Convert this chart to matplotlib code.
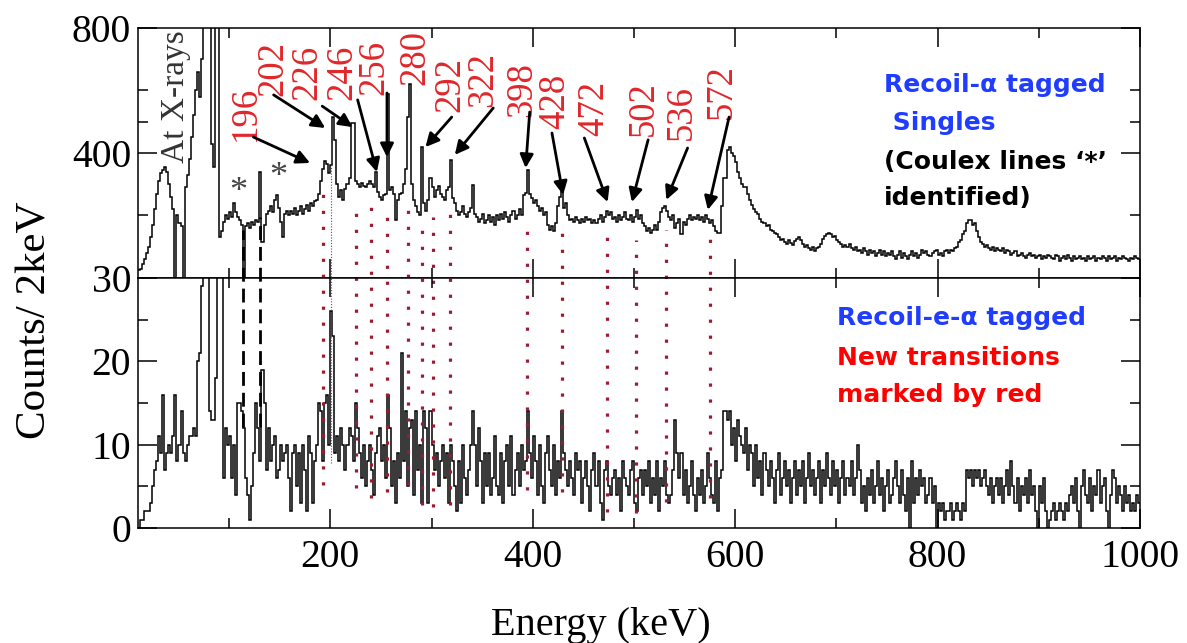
import numpy as np
import matplotlib
matplotlib.use("Agg")
import matplotlib.pyplot as plt

plt.rcParams['font.family'] = ['Liberation Serif', 'DejaVu Serif']

# ---------------- data (2 keV bins from 10 keV to 1000 keV) ----------------
bin_start = 10
bin_width = 2

singles_counts = [
    25, 30, 45, 60, 80, 100, 130, 170, 220, 270, 310, 335, 345, 355, 340, 300, 260, 220, 0, 200, 175, 165, 0, 290, 330,
    380, 450, 520, 600, 660, 580, 700, 1500, 2500, 2500, 1200, 430, 355, 1500, 1800, 130, 150, 180, 200, 190, 210, 195, 240, 210, 195,
    185, 170, 0, 165, 175, 160, 180, 170, 185, 180, 340, 115, 170, 205, 215, 230, 210, 250, 265, 225, 180, 130, 205, 215, 200,
    215, 205, 225, 200, 215, 230, 205, 220, 235, 215, 240, 230, 245, 250, 270, 310, 350, 375, 365, 335, 360, 515, 440, 300, 260,
    280, 250, 285, 300, 320, 495, 495, 310, 300, 290, 305, 295, 290, 300, 310, 300, 290, 340, 275, 260, 250, 265, 270, 590, 280,
    290, 270, 186, 250, 270, 272, 300, 350, 515, 620, 300, 250, 230, 210, 200, 420, 240, 215, 250, 320, 290, 260, 280, 295, 270,
    260, 250, 280, 290, 378, 255, 240, 215, 200, 210, 230, 205, 195, 210, 225, 298, 205, 195, 180, 190, 205, 175, 185, 200, 180,
    195, 170, 200, 185, 205, 190, 210, 195, 180, 200, 215, 190, 200, 220, 200, 265, 272, 346, 270, 255, 240, 250, 230, 215, 225,
    200, 210, 170, 155, 165, 150, 175, 230, 260, 280, 225, 240, 200, 185, 190, 180, 195, 185, 175, 190, 180, 195, 185, 190, 175,
    185, 175, 190, 200, 180, 195, 215, 200, 210, 190, 195, 180, 200, 185, 195, 210, 190, 185, 200, 180, 195, 218, 190, 200, 175,
    165, 150, 160, 145, 155, 170, 155, 180, 210, 225, 230, 215, 195, 185, 200, 160, 175, 190, 140, 180, 170, 190, 200, 185, 195,
    190, 200, 185, 195, 180, 200, 190, 175, 185, 165, 150, 145, 145, 230, 320, 320, 410, 420, 400, 390, 370, 340, 320, 300, 290,
    290, 270, 250, 235, 220, 210, 205, 190, 180, 175, 165, 170, 155, 150, 145, 140, 130, 120, 125, 115, 110, 120, 112, 105, 118,
    125, 130, 120, 110, 100, 105, 95, 90, 100, 85, 95, 100, 110, 125, 135, 140, 145, 140, 130, 135, 120, 115, 110, 100, 105,
    100, 110, 95, 90, 100, 85, 90, 80, 95, 85, 75, 90, 80, 85, 70, 80, 90, 75, 85, 70, 80, 75, 85, 70, 60,
    75, 85, 65, 80, 70, 60, 75, 85, 70, 80, 65, 75, 90, 80, 85, 75, 70, 80, 85, 90, 75, 80, 70, 85, 90,
    80, 90, 85, 95, 100, 115, 120, 140, 150, 175, 185, 186, 170, 175, 150, 130, 115, 110, 100, 105, 95, 90, 100, 85, 95,
    90, 85, 95, 80, 90, 85, 75, 80, 85, 70, 75, 80, 70, 65, 75, 80, 70, 75, 65, 70, 75, 60, 70, 65, 75,
    70, 65, 60, 75, 70, 55, 65, 70, 60, 75, 65, 55, 70, 60, 65, 70, 60, 65, 55, 70, 60, 65, 70, 55, 65,
    60, 70, 65, 55, 70, 60, 65, 70, 55, 65, 60, 70, 65, 60, 55, 65, 60, 70, 65, 60,
]

tagged_counts = [
    0, 1, 1, 2, 2, 2, 3, 5, 7, 8, 11, 9, 16, 7, 9, 10, 9, 11, 16, 8, 10, 14, 9, 8, 10,
    11, 11, 12, 11, 20, 21, 29, 45, 60, 55, 14, 13, 13, 18, 40, 50, 40, 6, 12, 10, 11, 6, 10, 4, 15,
    15, 14, 12, 6, 4, 1, 5, 9, 15, 12, 8, 19, 15, 7, 12, 8, 10, 11, 6, 7, 10, 8, 9, 10, 6,
    2, 9, 10, 5, 9, 3, 10, 7, 2, 11, 9, 3, 8, 10, 15, 14, 8, 15, 16, 10, 26, 23, 9, 11, 8,
    12, 10, 7, 10, 12, 11, 8, 15, 12, 9, 6, 10, 5, 8, 10, 7, 4, 9, 11, 12, 8, 10, 6, 16, 12,
    5, 8, 3, 9, 6, 21, 8, 14, 5, 12, 13, 4, 14, 7, 10, 3, 14, 12, 3, 14, 10, 7, 9, 5, 8,
    10, 6, 9, 3, 10, 8, 5, 2, 8, 3, 10, 6, 4, 7, 10, 14, 10, 5, 12, 8, 3, 9, 5, 9, 4,
    6, 11, 5, 4, 9, 3, 8, 10, 5, 11, 4, 7, 9, 5, 10, 7, 8, 14, 9, 6, 11, 8, 4, 10, 5,
    3, 9, 11, 7, 5, 10, 4, 8, 6, 14, 9, 7, 5, 8, 6, 4, 9, 7, 8, 3, 6, 8, 5, 2, 7,
    9, 5, 8, 3, 1, 7, 8, 5, 4, 6, 7, 4, 6, 2, 8, 6, 5, 4, 7, 8, 3, 2, 6, 7, 4,
    7, 5, 8, 3, 6, 4, 8, 2, 6, 5, 8, 4, 3, 4, 7, 13, 9, 6, 9, 4, 7, 3, 5, 8, 4,
    2, 6, 4, 7, 3, 5, 9, 6, 4, 3, 8, 2, 6, 7, 14, 14, 13, 14, 10, 12, 8, 13, 11, 10, 9,
    12, 7, 10, 9, 5, 10, 6, 8, 4, 9, 7, 5, 8, 6, 3, 7, 9, 4, 6, 8, 5, 7, 3, 6, 8,
    4, 7, 5, 8, 3, 6, 9, 5, 7, 4, 6, 8, 3, 7, 5, 9, 6, 4, 8, 5, 7, 3, 6, 8, 4,
    6, 5, 8, 4, 6, 10, 7, 3, 5, 2, 6, 4, 7, 3, 5, 8, 4, 6, 2, 5, 7, 3, 4, 6, 8,
    5, 3, 7, 4, 2, 6, 0, 8, 3, 6, 4, 7, 5, 6, 3, 4, 6, 3, 5, 0, 3, 2, 3, 1, 2,
    2, 3, 1, 2, 3, 2, 1, 3, 2, 7, 6, 7, 5, 7, 6, 7, 5, 6, 7, 5, 4, 6, 3, 5, 6,
    4, 6, 3, 5, 7, 4, 8, 5, 3, 6, 2, 5, 4, 6, 3, 7, 4, 5, 2, 0, 5, 3, 6, 2, 0,
    1, 2, 3, 1, 2, 3, 2, 1, 3, 2, 4, 5, 3, 6, 2, 0, 5, 7, 4, 3, 6, 2, 5, 4, 7,
    3, 5, 6, 2, 0, 4, 7, 6, 3, 5, 4, 2, 5, 3, 4, 2, 3, 2, 4, 3,
]

# transition labels (keV)
transition_labels = ['196', '202', '226', '246', '256', '280', '292', '322',
                     '398', '428', '472', '502', '536', '572']
# energies where the red dotted guide lines are drawn (keV)
new_line_energies = [193, 225, 240, 256, 277, 291, 301, 318, 394, 429, 473, 502, 532, 575]
coulex_energies = [114, 131]
x_ticks = [200, 400, 600, 800, 1000]
top_yticks = [400, 800]
bot_yticks = [0, 10, 20, 30]

# ---------------- layout (annotation placement) ----------------
label_pos = [(116, 528), (144, 672), (177, 659), (212, 659), (243, 675), (284, 707),
             (318, 618), (351, 634), (389, 602), (422, 566), (461, 541), (510, 541),
             (547, 531), (587, 598)]
arrow_geom = [(124, 451, 180, 368), (144, 586, 195, 480), (192, 550, 222, 483),
              (227, 570, 246, 339), (256, 592, 256, 387), None,
              (320, 515, 294, 419), (361, 544, 323, 394), (397, 531, 393, 352),
              (419, 464, 430, 266), (451, 448, 474, 243), (514, 442, 498, 243),
              (553, 416, 532, 250), (594, 515, 573, 218)]
new_line_top = [40.2, 38.2, 39.7, 37.8, 39.4, 36.6, 37.3, 39.0, 36.1, 36.1, 35.4, 34.6, 35.8, 35.4]
new_line_bot = [5.2, 4.8, 3.6, 4.3, 5.2, 2.8, 2.5, 2.8, 4.6, 4.3, 1.9, 1.8, 3.1, 3.6]
coulex_top = [35.8, 37.3]
coulex_bot = [12.1, 12.1]

W, H = 1187, 643
fig = plt.figure(figsize=(W / 100, H / 100), dpi=100)
ax_top = fig.add_axes([138 / W, 1 - 278 / H, 1002 / W, 250 / H])
ax_bot = fig.add_axes([138 / W, 1 - 528 / H, 1002 / W, 250 / H])

edges = bin_start + bin_width * np.arange(len(singles_counts) + 1)
ax_top.stairs(singles_counts, edges, baseline=None, color='black', lw=1.1)
ax_bot.stairs(tagged_counts, edges, baseline=None, color='black', lw=1.1)

for ax in (ax_top, ax_bot):
    ax.set_xlim(10, 1000)
    ax.set_xticks(x_ticks)
    ax.set_xticks([100, 300, 500, 700, 900], minor=True)
    ax.tick_params(which='both', direction='in', top=True, right=True, width=1.1)
    ax.tick_params(which='major', length=13.5, labelsize=28.5)
    ax.tick_params(which='minor', length=7)
    ax.tick_params(axis='y', pad=5)
    ax.tick_params(axis='x', pad=8)
    for s in ax.spines.values():
        s.set_linewidth(1.1)

ax_top.set_ylim(0, 800)
ax_top.set_yticks(top_yticks)
ax_top.set_yticklabels([str(v) for v in top_yticks])
ax_top.set_yticks([200, 500, 600], minor=True)
ax_top.tick_params(axis='x', labelbottom=False)

ax_bot.set_ylim(0, 30)
ax_bot.set_yticks(bot_yticks)
ax_bot.set_yticklabels([str(v) for v in bot_yticks])
ax_bot.set_yticks([5, 15, 25], minor=True)
ax_bot.set_xticklabels([str(v) for v in x_ticks])

# guide lines spanning both panels
for e, yt, yb in zip(new_line_energies, new_line_top, new_line_bot):
    ax_bot.plot([e, e], [yb, yt], color='#9e1a30', lw=2.3, ls=(0, (1, 4.0)),
                clip_on=False, zorder=1)
for e, yt, yb in zip(coulex_energies, coulex_top, coulex_bot):
    ax_bot.plot([e, e], [yb, yt], color='black', lw=2.0, ls=(0, (5, 2.5)),
                clip_on=False, zorder=3)
ax_bot.plot([201, 201], [7.8, 46.2], color='#555555', lw=0.8, ls=(0, (1, 1.5)),
            clip_on=False, zorder=3)

# red transition labels and arrows
for lab, (ex, cy), arr in zip(transition_labels, label_pos, arrow_geom):
    ax_top.text(ex, cy, lab, rotation=90, ha='center', va='center', fontsize=26.5,
                color='#e0262b', clip_on=False, zorder=5)
    if arr is not None:
        ax_top.annotate('', xy=(arr[2], arr[3]), xytext=(arr[0], arr[1]),
                        arrowprops=dict(arrowstyle='-|>', color='black', lw=2.0,
                                        mutation_scale=20, shrinkA=0, shrinkB=0),
                        zorder=6)

ax_top.text(47, 579, 'At X-rays', rotation=90, ha='center', va='center',
            fontsize=24, color='#333333')
ax_top.text(109, 273, '*', ha='center', va='center', fontsize=26, color='#444444')
ax_top.text(149, 320, '*', ha='center', va='center', fontsize=26, color='#444444')

# axis titles
fig.text(35 / W, 1 - 320 / H, 'Counts/ 2keV', rotation=90, ha='center', va='center',
         fontsize=31)
fig.text(601 / W, 1 - 626 / H, 'Energy (keV)', ha='center', va='center', fontsize=29)

# panel annotations
sans = ['DejaVu Sans']
blue = '#1f3cff'
red = '#ff0000'
def ptext(x, y, s, c):
    fig.text(x / W, 1 - y / H, s, ha='left', va='center', fontsize=18,
             fontweight='bold', color=c, family=sans)

ptext(884, 85, 'Recoil-\u03b1 tagged', blue)
ptext(884, 123, ' Singles', blue)
ptext(884, 162, '(Coulex lines \u2018*\u2019', 'black')
ptext(884, 198, 'identified)', 'black')
ptext(837, 318, 'Recoil-e-\u03b1 tagged', blue)
ptext(837, 358, 'New transitions', red)
ptext(837, 395, 'marked by red', red)

fig.savefig('out.png', dpi=100)
